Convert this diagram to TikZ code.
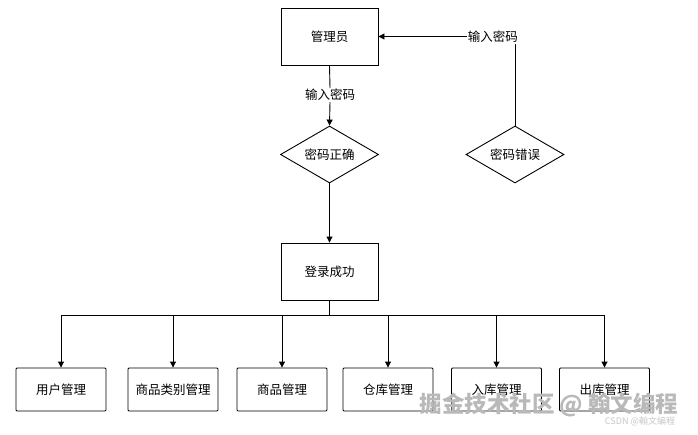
\documentclass[tikz,border=0pt]{standalone}
\usepackage{fontspec}
\setmainfont{Liberation Serif}
\newfontfamily\cjk{Noto Sans CJK SC}
\newfontfamily\cjklight{Noto Sans CJK SC Light}
\usetikzlibrary{shapes.geometric,arrows.meta}
\begin{document}
\begin{tikzpicture}[x=1pt,y=-1pt,
  every node/.style={font=\cjk\fontsize{12.5}{14}\selectfont},
  box/.style={draw,line width=0.9pt,minimum width=97pt,minimum height=57pt,inner sep=0pt},
  leaf/.style={draw,line width=0.9pt,minimum width=90pt,minimum height=43pt,inner sep=0pt,rounded corners=1pt},
  dia/.style={draw,line width=0.9pt,diamond,aspect=1.7,minimum width=98pt,minimum height=57pt,inner sep=0pt},
  conn/.style={line width=0.9pt},
  arr/.style={conn,-{Triangle[length=6pt,width=6pt]}},
  lbl/.style={fill=white,inner sep=1pt}]
\useasboundingbox (0,0) rectangle (698,434);
\node[box] (admin) at (329.5,36.5) {管理员};
\node[dia] (ok) at (329.5,154.5) {密码正确};
\node[dia] (err) at (515,154.5) {密码错误};
\node[box] (login) at (329.5,271.5) {登录成功};
\node[lbl] (l1) at (330,95) {输入密码};
\node[lbl,anchor=east] (l2) at (519,36.5) {输入密码};
\draw[conn] (admin.south) -- (l1.north);
\draw[arr] (l1.south) -- (ok.north);
\draw[conn] (err.north) -- (err.north |- l2.south);
\draw[arr] (l2.west) -- (admin.east);
\draw[arr] (ok.south) -- (login.north);
\coordinate (bus) at (329.5,315.5);
\draw[conn] (login.south) -- (bus);
\node[leaf] (c1) at (61,389.5) {用户管理};
\node[leaf] (c2) at (173,389.5) {商品类别管理};
\node[leaf] (c3) at (282,389.5) {商品管理};
\node[leaf] (c4) at (388,389.5) {仓库管理};
\node[leaf] (c5) at (496.5,389.5) {入库管理};
\node[leaf] (c6) at (604.5,389.5) {出库管理};
\draw[conn] (c1.north |- bus) -- (c6.north |- bus);
\foreach \c in {c1,c2,c3,c4,c5,c6}
  \draw[arr] (\c.north |- bus) -- (\c.north);
\node[text=gray!55,font=\cjk\fontsize{22.5}{24}\selectfont\bfseries] (wm) at (549,405) {掘金技术社区 @ 翰文编程};
\node[text=gray!45,font=\cjk\fontsize{9}{10}\selectfont] (wm2) at (640,421) {CSDN @翰文编程};
\end{tikzpicture}
\end{document}
